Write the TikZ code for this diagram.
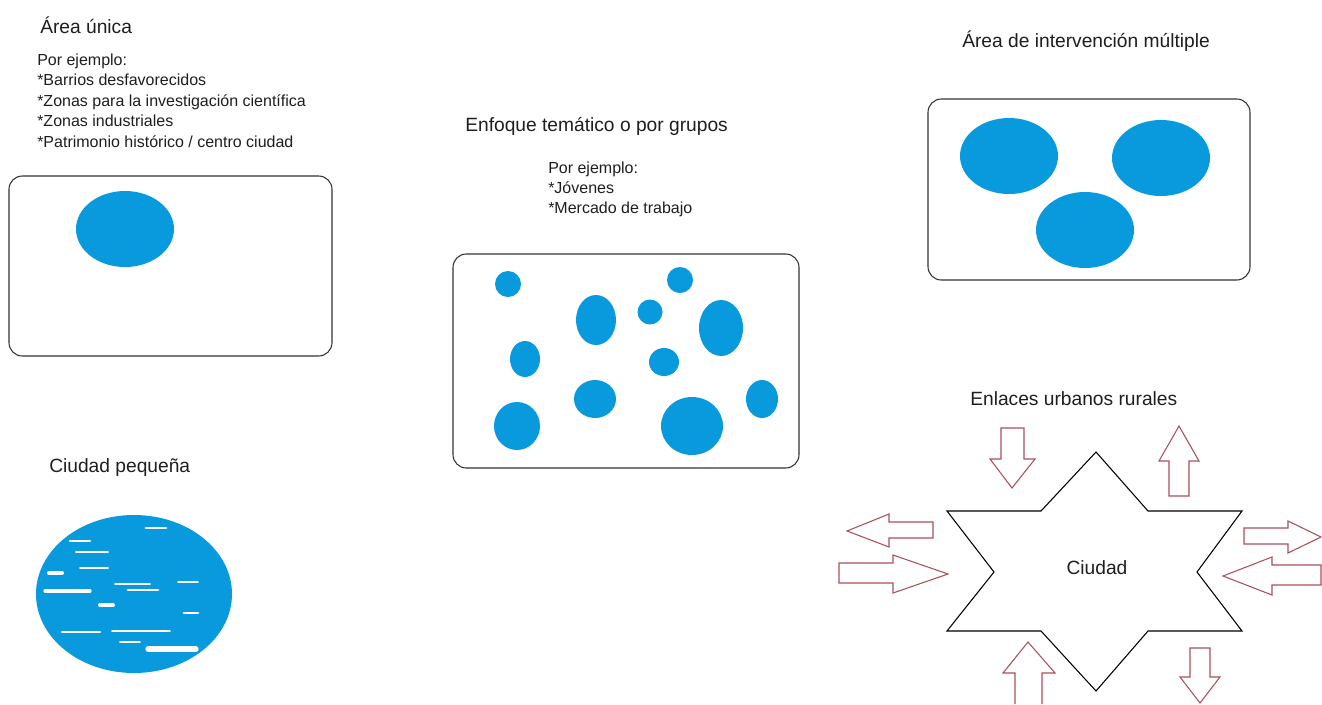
\documentclass[tikz,border=0pt]{standalone}
\usepackage{fontspec}
\setmainfont{Liberation Sans}
\definecolor{spotblue}{RGB}{8,154,220}
\definecolor{framegray}{RGB}{50,50,50}
\definecolor{arrowred}{RGB}{170,80,90}
\definecolor{textgray}{RGB}{30,30,30}
\tikzset{
    every node/.style={inner sep=0pt, text=textgray}
}
\tikzset{
    title/.style={anchor=base west, font=\fontsize{14.4}{17}\selectfont},
    body/.style={anchor=base west, font=\fontsize{12}{14}\selectfont},
    panel/.style={draw=framegray, line width=0.8pt, rounded corners=10pt},
    spot/.style={fill=spotblue},
    streak/.style={draw=white, line cap=round},
    blockarrow/.style={draw=arrowred, line width=0.8pt},
    star/.style={draw=black, line width=0.8pt}
}

\begin{document}
\begin{tikzpicture}[x=0.75pt, y=-0.75pt]
    \useasboundingbox (0,0) rectangle (1322,704);

    % area unica
    \node (unica) [title] at (40,33) {Área única};
    \node (ua1) [body] at (37,65) {Por ejemplo:};
    \node (ua2) [body] at (37,85.5) {*Barrios desfavorecidos};
    \node (ua3) [body] at (37,106) {*Zonas para la investigación científica};
    \node (ua4) [body] at (37,126.5) {*Zonas industriales};
    \node (ua5) [body] at (37,147) {*Patrimonio histórico / centro ciudad};
    \draw[panel] (9,176) rectangle (332,356);
    \fill[spot] (125,229) ellipse [x radius=49, y radius=38];

    % ciudad pequena
    \node (pequena) [title] at (49,472) {Ciudad pequeña};
    \fill[spot] (134,594) ellipse [x radius=98, y radius=79];
    \foreach \xa/\xb/\yy/\w in {146/166/528/2.2, 70/90/541/1.6, 76/108/552/1.4,
        49/62/573/3, 80/108/568/1.2, 45/90/591/2.4, 115/150/584/1.4,
        128/158/590/2.2, 178/198/582/1.4, 100/113/605/3, 184/198/613/2,
        62/100/632/1.8, 112/170/631/1.4, 148/196/649/4, 120/140/642/1.2}
        \draw[streak, line width=\w pt] (\xa,\yy) -- (\xb,\yy);

    % enfoque tematico
    \node (tematico) [title] at (465,131) {Enfoque temático o por grupos};
    \node (et1) [body] at (548,173) {Por ejemplo:};
    \node (et2) [body] at (548,193) {*Jóvenes};
    \node (et3) [body] at (548,213) {*Mercado de trabajo};
    \draw[panel] (453,254) rectangle (799,468);
    \foreach \cx/\cy/\rx/\ry in {508/284/13/13, 596/320/20/25, 650/312/12.5/12.5,
        680/280/13/13, 721/328/22/28, 525/359/15/18, 664/362/15/14,
        595/399/21/19, 762/399/16/19, 517/426/23/24, 692/426/31/29}
        \fill[spot] (\cx,\cy) ellipse [x radius=\rx, y radius=\ry];

    % intervencion multiple
    \node (multiple) [title] at (962,47) {Área de intervención múltiple};
    \draw[panel] (928,99) rectangle (1250,280);
    \fill[spot] (1009,156) ellipse [x radius=49, y radius=38];
    \fill[spot] (1161,158) ellipse [x radius=49, y radius=38];
    \fill[spot] (1085,230) ellipse [x radius=49, y radius=38];

    % enlaces urbanos rurales
    \node (enlaces) [title] at (970,405) {Enlaces urbanos rurales};
    \draw[star] (1096,452) -- (1148,511) -- (1242,511) -- (1197,572)
        -- (1242,631) -- (1148,631) -- (1096,691) -- (1041,631)
        -- (947,631) -- (994,572) -- (947,511) -- (1041,511) -- cycle;
    \node (ciudad) [font=\fontsize{14.4}{17}\selectfont] at (1097,568) {Ciudad};

    \draw[blockarrow] (1001,428) -- (1024,428) -- (1024,459) -- (1035,459)
        -- (1012,488) -- (990,459) -- (1001,459) -- cycle;
    \draw[blockarrow] (1169,496) -- (1189,496) -- (1189,461) -- (1199,461)
        -- (1179,426) -- (1159,461) -- (1169,461) -- cycle;
    \draw[blockarrow] (933,522) -- (933,538) -- (889,538) -- (889,547)
        -- (847,531) -- (889,514) -- (889,522) -- cycle;
    \draw[blockarrow] (839,563) -- (893,563) -- (893,555) -- (948,574)
        -- (893,593) -- (893,583) -- (839,583) -- cycle;
    \draw[blockarrow] (1244,528) -- (1288,528) -- (1288,521) -- (1321,537)
        -- (1288,553) -- (1288,544) -- (1244,544) -- cycle;
    \draw[blockarrow] (1321,565) -- (1321,585) -- (1272,585) -- (1272,595)
        -- (1223,576) -- (1272,557) -- (1272,565) -- cycle;
    \draw[blockarrow] (1015,704) -- (1015,673) -- (1003,673) -- (1028,642)
        -- (1055,673) -- (1042,673) -- (1042,704);
    \draw[blockarrow] (1190,648) -- (1210,648) -- (1210,677) -- (1220,677)
        -- (1200,703) -- (1180,677) -- (1190,677) -- cycle;
\end{tikzpicture}
\end{document}
